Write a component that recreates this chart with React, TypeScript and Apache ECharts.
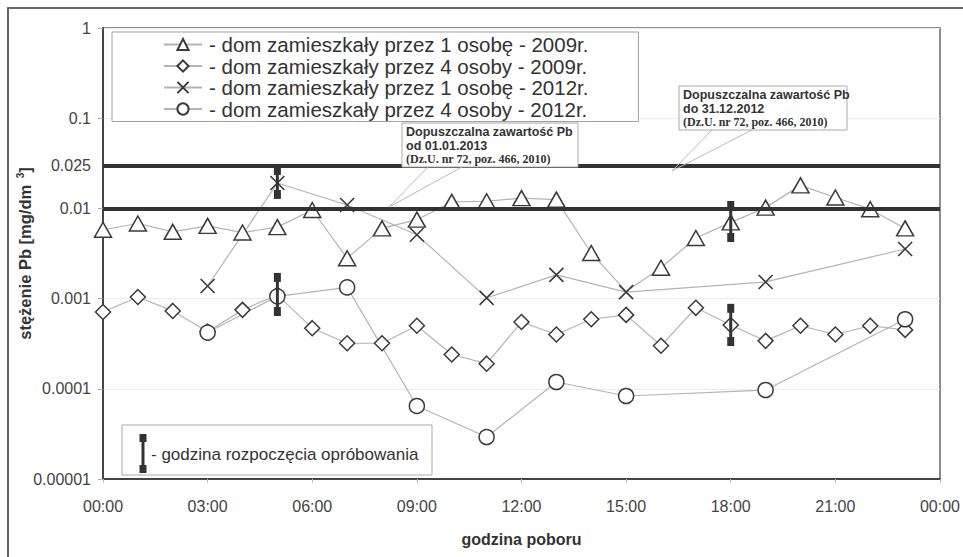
import React, { useEffect, useRef } from "react";
import * as echarts from "echarts";

// ---------- data ----------
const HOURS = [0, 1, 2, 3, 4, 5, 6, 7, 8, 9, 10, 11, 12, 13, 14, 15, 16, 17, 18, 19, 20, 21, 22, 23];
const ONE_PERSON_2009 = [0.0058, 0.0068, 0.0055, 0.0064, 0.0054, 0.0062, 0.0096, 0.0028, 0.006, 0.0075, 0.0118, 0.012, 0.013, 0.0125, 0.0032, 0.0012, 0.0022, 0.0047, 0.007, 0.0102, 0.018, 0.0132, 0.0098, 0.006];
const FOUR_PERSONS_2009 = [0.00071, 0.00104, 0.00073, 0.00043, 0.00075, 0.0011, 0.00047, 0.00032, 0.00032, 0.0005, 0.00024, 0.00019, 0.00055, 0.0004, 0.00059, 0.00066, 0.0003, 0.00079, 0.00051, 0.00034, 0.0005, 0.0004, 0.0005, 0.00045];
const HOURS_2012 = [3, 5, 7, 9, 11, 13, 15, 19, 23];
const ONE_PERSON_2012 = [0.00138, 0.0191, 0.0109, 0.0051, 0.00102, 0.00183, 0.00118, 0.00153, 0.00355];
const FOUR_PERSONS_2012 = [0.00042, 0.00106, 0.00133, 0.0000645, 0.0000292, 0.000119, 0.0000832, 0.000097, 0.00059];
const HIDDEN_POINTS_ONE_PERSON_2009 = [15];

const SERIES_NAMES = [
  "- dom zamieszkały przez 1 osobę - 2009r.",
  "- dom zamieszkały przez 4 osoby - 2009r.",
  "- dom zamieszkały przez 1 osobę - 2012r.",
  "- dom zamieszkały przez 4 osoby - 2012r.",
];

const LIMITS = [0.025, 0.01];
const START_HOURS = [5, 5, 18, 18];
const START_LOW = [0.0141, 0.00071, 0.0047, 0.00033];
const START_HIGH = [0.0267, 0.00174, 0.0109, 0.00079];

const X_TICK_LABELS = ["00:00", "03:00", "06:00", "09:00", "12:00", "15:00", "18:00", "21:00", "00:00"];

const NOTE_NEW = ["Dopuszczalna zawartość Pb", "od 01.01.2013", "(Dz.U. nr 72, poz. 466, 2010)"];
const NOTE_OLD = ["Dopuszczalna zawartość Pb", "do 31.12.2012", "(Dz.U. nr 72, poz. 466, 2010)"];
const START_LEGEND = "- godzina rozpoczęcia opróbowania";

const SANS = "Liberation Sans, Arial, sans-serif";
const SERIF = "Liberation Serif, Times New Roman, serif";

const MARK_COLOR = "#3a3a3a";
const LINE_COLOR = "#b4b4b4";

function buildOption() {
  const markerStyle = { color: "#fff", borderColor: MARK_COLOR, borderWidth: 1.5 };
  const lineStyle = { color: LINE_COLOR, width: 1.2 };

  const s1 = HOURS.map((h, i) =>
    HIDDEN_POINTS_ONE_PERSON_2009.includes(h)
      ? { value: [h, ONE_PERSON_2009[i]], symbol: "none" }
      : { value: [h, ONE_PERSON_2009[i]] }
  );
  const s2 = HOURS.map((h, i) => [h, FOUR_PERSONS_2009[i]]);
  const s3 = HOURS_2012.map((h, i) => [h, ONE_PERSON_2012[i]]);
  const s4 = HOURS_2012.map((h, i) => [h, FOUR_PERSONS_2012[i]]);
  const bars = START_HOURS.map((h, i) => [h, START_LOW[i], START_HIGH[i]]);

  const noteText = (lines: string[], x: number, y: number) =>
    lines.map((t, i) => ({
      type: "text",
      x,
      y: y + i * 13.5,
      style: {
        text: t,
        font: i < 2 ? `bold 12.5px ${SANS}` : `bold 12px ${SERIF}`,
        fill: "#333",
        verticalAlign: "middle",
      },
      z: 20,
    }));

  return {
    animation: false,
    backgroundColor: "#fff",
    grid: {
      left: 103,
      right: 21,
      top: 28,
      bottom: 78,
      show: true,
      borderColor: "#8c8c8c",
      borderWidth: 2,
      backgroundColor: "transparent",
    },
    legend: {
      data: SERIES_NAMES,
      orient: "vertical",
      left: 112,
      top: 32,
      padding: [2, 50, 2, 51],
      itemGap: 0.5,
      itemWidth: 38,
      itemHeight: 14,
      backgroundColor: "#fff",
      borderColor: "#a0a0a0",
      borderWidth: 1,
      borderRadius: 0,
      textStyle: { fontFamily: SANS, fontSize: 20.5, color: "#333", padding: [0, 0, 0, 2] },
      selectedMode: false,
      z: 10,
    },
    xAxis: {
      type: "value",
      min: 0,
      max: 24,
      interval: 3,
      name: "godzina poboru",
      nameLocation: "middle",
      nameGap: 52,
      nameMoveOverlap: false,
      nameTextStyle: { fontFamily: SANS, fontSize: 16, fontWeight: "bold", color: "#333" },
      axisLine: { show: true, lineStyle: { color: "#444", width: 2 } },
      axisTick: { show: true, length: 4, lineStyle: { color: "#bbb" } },
      axisLabel: {
        fontFamily: SANS,
        fontSize: 16,
        color: "#444",
        margin: 19,
        formatter: (v: number) => X_TICK_LABELS[Math.round(v / 3)],
      },
      splitLine: { show: false },
    },
    yAxis: {
      type: "log",
      logBase: 10,
      min: 0.00001,
      max: 1,
      interval: 1,
      name: "{a|stężenie Pb [mg/dm }{s|3}{a|]}",
      nameLocation: "middle",
      nameGap: 68,
      nameMoveOverlap: false,
      nameRotate: 90,
      nameTextStyle: {
        rich: {
          a: { fontFamily: SANS, fontSize: 16.5, fontWeight: "bold", color: "#333" },
          s: { fontFamily: SANS, fontSize: 10, fontWeight: "bold", color: "#333", padding: [0, 0, 10, 2] },
        },
      },
      axisLine: { show: true, lineStyle: { color: "#444", width: 2 } },
      axisTick: { show: true, length: 5, lineStyle: { color: "#aaa" } },
      axisLabel: {
        fontFamily: SANS,
        fontSize: 16,
        color: "#444",
        margin: 12,
        formatter: (v: number) => {
          const e = Math.round(Math.log10(v));
          return e >= 0 ? "1" : "0." + "0".repeat(-e - 1) + "1";
        },
      },
      splitLine: { show: true, lineStyle: { color: "#ececec", width: 1 } },
    },
    series: [
      {
        name: SERIES_NAMES[0],
        type: "line",
        data: s1,
        symbol: "triangle",
        symbolSize: [17, 15],
        itemStyle: markerStyle,
        lineStyle,
        z: 2,
      },
      {
        name: SERIES_NAMES[1],
        type: "line",
        data: s2,
        symbol: "diamond",
        symbolSize: [15, 15],
        itemStyle: markerStyle,
        lineStyle,
        z: 2,
      },
      {
        name: SERIES_NAMES[2],
        type: "line",
        data: s3,
        symbol: "path://M0,0L10,10M10,0L0,10",
        symbolSize: [14, 14],
        itemStyle: { color: "none", borderColor: MARK_COLOR, borderWidth: 1.6 },
        lineStyle,
        z: 2,
      },
      {
        name: SERIES_NAMES[3],
        type: "line",
        data: s4,
        symbol: "circle",
        symbolSize: 15,
        itemStyle: markerStyle,
        lineStyle,
        z: 2,
      },
      {
        name: "limits",
        type: "line",
        data: [],
        z: 4,
        markLine: {
          silent: true,
          symbol: "none",
          lineStyle: { color: "#333", width: 4, type: "solid" },
          label: { show: false },
          data: LIMITS.map((v, i) => ({
            yAxis: v,
            label:
              i === 0
                ? {
                    show: true,
                    position: "start",
                    distance: 12,
                    formatter: "0.025",
                    fontFamily: SANS,
                    fontSize: 16,
                    color: "#444",
                  }
                : { show: false },
          })),
        },
      },
      {
        name: "start",
        type: "custom",
        data: bars,
        z: 5,
        encode: { x: 0, y: [1, 2] },
        renderItem: (params: any, api: any) => {
          const h = api.value(0);
          const top = api.coord([h, api.value(2)]);
          const bot = api.coord([h, api.value(1)]);
          const st = { fill: "#333" };
          return {
            type: "group",
            children: [
              { type: "line", shape: { x1: top[0], y1: top[1], x2: bot[0], y2: bot[1] }, style: { stroke: "#333", lineWidth: 3 } },
              { type: "rect", shape: { x: top[0] - 3.5, y: top[1] - 4, width: 7, height: 9 }, style: st },
              { type: "rect", shape: { x: bot[0] - 3.5, y: bot[1] - 5, width: 7, height: 9 }, style: st },
            ],
          };
        },
      },
    ],
    graphic: [
      // outer frame
      { type: "rect", shape: { x: 8, y: 8, width: 1200, height: 900 }, style: { fill: "none", stroke: "#666", lineWidth: 2 }, z: 1 },
      // note: new limit
      { type: "line", shape: { x1: 428, y1: 167, x2: 389, y2: 207 }, style: { stroke: "#bbb", lineWidth: 1 }, z: 19 },
      { type: "line", shape: { x1: 462, y1: 167, x2: 389, y2: 207 }, style: { stroke: "#bbb", lineWidth: 1 }, z: 19 },
      { type: "rect", shape: { x: 402, y: 123, width: 176, height: 44 }, style: { fill: "#fff", stroke: "#aaa", lineWidth: 1 }, z: 19 },
      ...noteText(NOTE_NEW, 406, 132),
      // note: old limit
      { type: "line", shape: { x1: 712, y1: 130, x2: 672, y2: 171 }, style: { stroke: "#bbb", lineWidth: 1 }, z: 19 },
      { type: "line", shape: { x1: 752, y1: 130, x2: 672, y2: 171 }, style: { stroke: "#bbb", lineWidth: 1 }, z: 19 },
      { type: "rect", shape: { x: 679, y: 86, width: 168, height: 44 }, style: { fill: "#fff", stroke: "#aaa", lineWidth: 1 }, z: 19 },
      ...noteText(NOTE_OLD, 683, 95),
      // start-time legend
      { type: "rect", shape: { x: 122, y: 425, width: 310, height: 50 }, style: { fill: "#fff", stroke: "#aaa", lineWidth: 1 }, z: 19 },
      { type: "line", shape: { x1: 143, y1: 438, x2: 143, y2: 469 }, style: { stroke: "#333", lineWidth: 3 }, z: 20 },
      { type: "rect", shape: { x: 139.5, y: 434, width: 7, height: 8 }, style: { fill: "#333" }, z: 20 },
      { type: "rect", shape: { x: 139.5, y: 465, width: 7, height: 8 }, style: { fill: "#333" }, z: 20 },
      {
        type: "text",
        x: 151,
        y: 454,
        style: { text: START_LEGEND, font: `17px ${SANS}`, fill: "#333", verticalAlign: "middle" },
        z: 20,
      },
    ],
  };
}

export default function App() {
  const ref = useRef<HTMLDivElement>(null);
  useEffect(() => {
    const chart = echarts.init(ref.current as HTMLDivElement, null, { renderer: "svg" });
    chart.setOption(buildOption() as any);
    return () => chart.dispose();
  }, []);
  return (
    <div
      ref={ref}
      style={{ position: "fixed", left: 0, top: 0, width: 963, height: 557, background: "#fff" }}
    />
  );
}
